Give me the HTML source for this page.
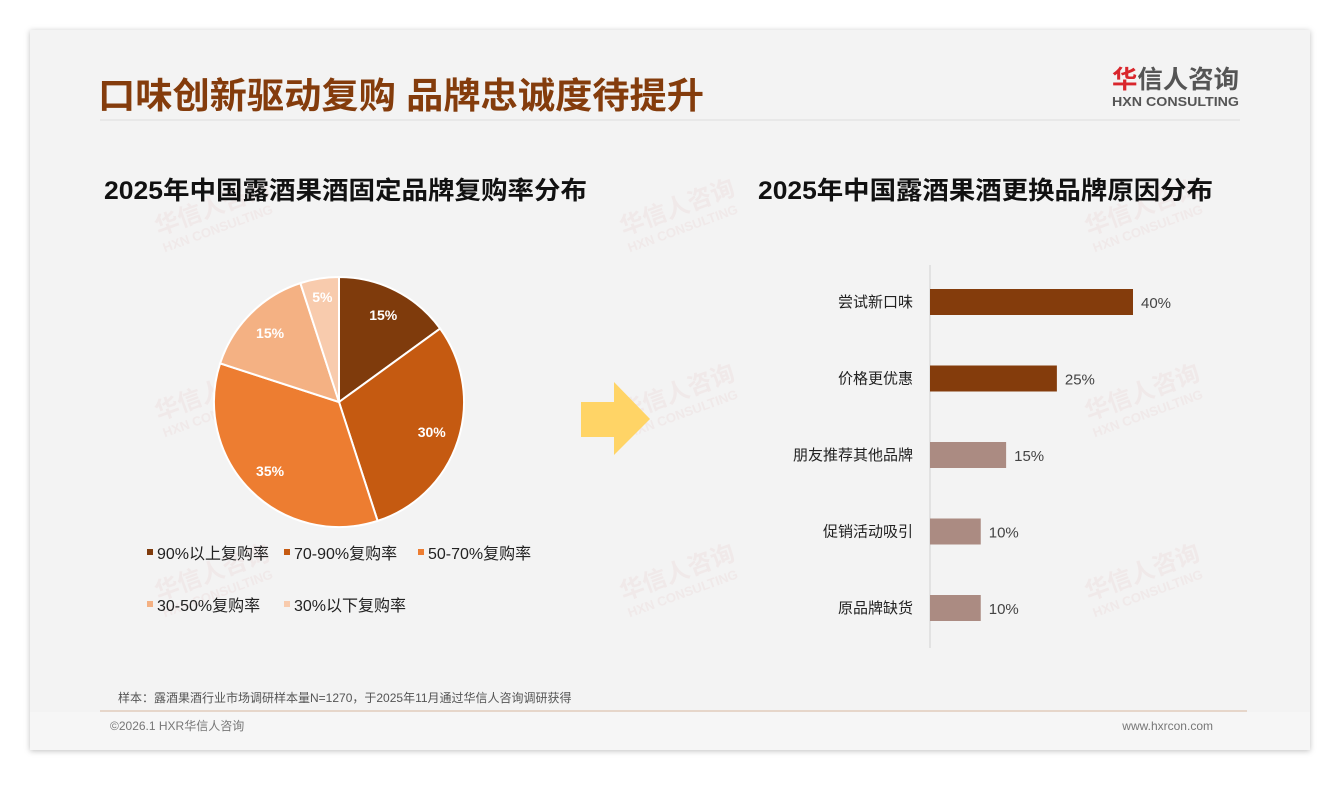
<!DOCTYPE html>
<html><head><meta charset="utf-8"><style>
html,body{margin:0;padding:0;background:#fff;}
body{width:1340px;height:780px;overflow:hidden;font-family:"Liberation Sans","Noto Sans CJK SC",sans-serif;}
</style></head><body>
<svg id="s" width="1340" height="780" xmlns="http://www.w3.org/2000/svg" font-family="Liberation Sans, Noto Sans CJK SC, sans-serif">
<defs><filter id="sh" x="-5%" y="-5%" width="110%" height="110%"><feDropShadow dx="0" dy="1" stdDeviation="3" flood-color="#000" flood-opacity="0.25"/></filter></defs>
<rect x="30" y="30" width="1280" height="720" fill="#f3f3f3" filter="url(#sh)"/>
<rect x="30" y="712" width="1280" height="38" fill="#f6f6f6"/>
<text x="98" y="108" font-size="36" font-weight="bold" fill="#843c0c" textLength="606" lengthAdjust="spacingAndGlyphs">口味创新驱动复购 品牌忠诚度待提升</text>
<line x1="100" y1="120" x2="1240" y2="120" stroke="#dcdcdc" stroke-width="1"/>
<g>
<text x="1112" y="88" font-size="25" font-weight="bold" fill="#555" textLength="127" lengthAdjust="spacingAndGlyphs"><tspan fill="#d9262c">华</tspan>信人咨询</text>
<text x="1112" y="106" font-size="13" font-weight="bold" fill="#555" textLength="127" lengthAdjust="spacingAndGlyphs">HXN CONSULTING</text>
</g>
<g id="wm" fill="#ebd3d3" opacity="0.3"></g>
<text x="104" y="199" font-size="25" font-weight="bold" fill="#111" textLength="483" lengthAdjust="spacingAndGlyphs">2025年中国露酒果酒固定品牌复购率分布</text>
<text x="758" y="199" font-size="25" font-weight="bold" fill="#111" textLength="455" lengthAdjust="spacingAndGlyphs">2025年中国露酒果酒更换品牌原因分布</text>
<g id="pie"></g>
<g id="legend"></g>
<polygon points="581,402 614,402 614,382 650,419 614,455 614,437 581,437" fill="#ffd466"/>
<g id="bars"></g>
<text x="118" y="702" font-size="12" fill="#555">样本：露酒果酒行业市场调研样本量N=1270，于2025年11月通过华信人咨询调研获得</text>
<line x1="100" y1="711" x2="1247" y2="711" stroke="#d9b9a0" stroke-width="1"/>
<text x="110" y="730" font-size="12" fill="#777">©2026.1 HXR华信人咨询</text>
<text x="1213" y="730" font-size="12" fill="#777" text-anchor="end">www.hxrcon.com</text>
</svg>
<script>
const pieLabels=["90%以上复购率","70-90%复购率","50-70%复购率","30-50%复购率","30%以下复购率"];
const pieValues=[15,30,35,15,5];
const pieColors=["#7f3b0c","#c55a11","#ed7d31","#f4b183","#f8cbad"];
const barCats=["尝试新口味","价格更优惠","朋友推荐其他品牌","促销活动吸引","原品牌缺货"];
const barValues=[40,25,15,10,10];
const barColors=["#843c0c","#843c0c","#ab8b82","#ab8b82","#ab8b82"];
const NS="http://www.w3.org/2000/svg";
function mk(t,a,p){const e=document.createElementNS(NS,t);for(const k in a)e.setAttribute(k,a[k]);p.appendChild(e);return e;}
const wm=document.getElementById('wm');
[[215,215],[680,215],[1145,215],[215,400],[680,400],[1145,400],[215,580],[680,580],[1145,580]].forEach(p=>{
 const g=mk('g',{transform:`translate(${p[0]},${p[1]}) rotate(-20)`},wm);
 
 
 const t=mk('text',{x:-60,y:0,'font-size':24,'font-weight':'bold'},g);t.textContent='华信人咨询';
 const t2=mk('text',{x:-60,y:18,'font-size':13,'font-weight':'bold'},g);t2.textContent='HXN CONSULTING';
});
const pie=document.getElementById('pie');const cx=339,cy=402,r=125;
const tot=pieValues.reduce((a,b)=>a+b,0);let a0=0;
pieValues.forEach((v,i)=>{
 const a1=a0+v/tot*2*Math.PI;
 const x0=cx+r*Math.sin(a0),y0=cy-r*Math.cos(a0),x1=cx+r*Math.sin(a1),y1=cy-r*Math.cos(a1);
 const p=mk('path',{d:`M${cx},${cy}L${x0},${y0}A${r},${r} 0 ${a1-a0>Math.PI?1:0} 1 ${x1},${y1}Z`,fill:pieColors[i],stroke:'#fff','stroke-width':2},pie);
 
 
 const am=(a0+a1)/2,lr=i==4?0.85*r:0.78*r;
 const t=mk('text',{x:cx+lr*Math.sin(am),y:cy-lr*Math.cos(am)+5,'font-size':14,'font-weight':'bold',fill:'#fff','text-anchor':'middle'},pie);
 t.textContent=v+'%';
 
 
 a0=a1;
});
const lg=document.getElementById('legend');
const lpos=[[147,553],[284,553],[418,553],[147,605],[284,605]];
pieLabels.forEach((l,i)=>{
 const g=mk('g',{},lg);
 
 
 mk('rect',{x:lpos[i][0],y:lpos[i][1]-4,width:6,height:6,fill:pieColors[i]},g);
 const t=mk('text',{x:lpos[i][0]+10,y:lpos[i][1]+6,'font-size':16,fill:'#222'},g);t.textContent=l;
});
const bg=document.getElementById('bars');const x0b=930,ppu=5.075,y0b=302,step=76.5,bh=26;
const ax=mk('line',{x1:x0b,y1:265,x2:x0b,y2:648,stroke:'#d0d0d0','stroke-width':1},bg);


barCats.forEach((c,i)=>{
 const y=y0b+i*step;
 const b=mk('rect',{x:x0b,y:y-bh/2,width:barValues[i]*ppu,height:bh,fill:barColors[i]},bg);
 
 
 const t=mk('text',{x:x0b-17,y:y+5,'font-size':15,fill:'#222','text-anchor':'end'},bg);t.textContent=c;
 
 
 const v=mk('text',{x:x0b+barValues[i]*ppu+8,y:y+6,'font-size':15,fill:'#444'},bg);v.textContent=barValues[i]+'%';
 
 
});
</script>
</body></html>
